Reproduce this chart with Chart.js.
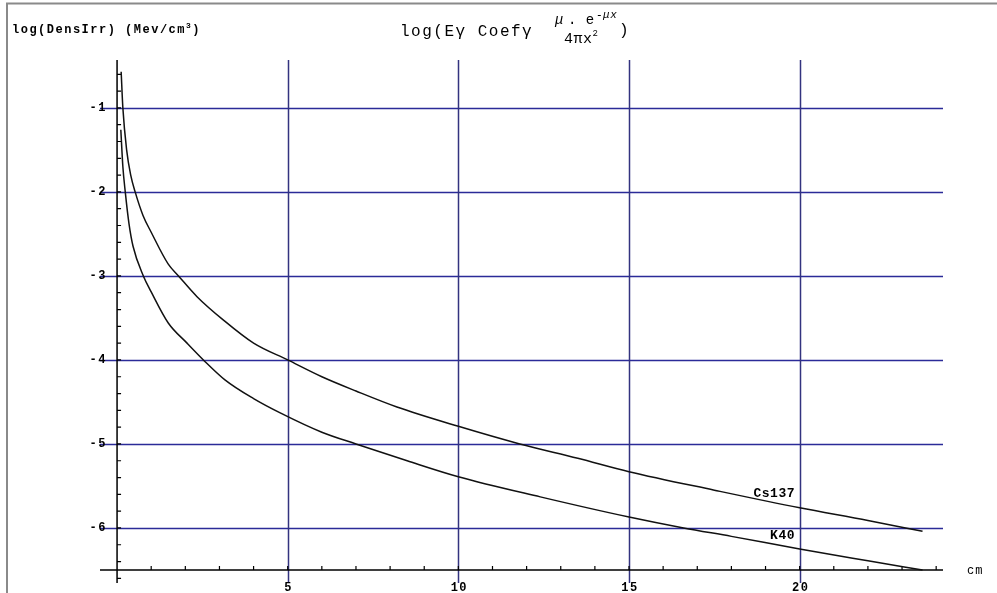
<!DOCTYPE html>
<html>
<head>
<meta charset="utf-8">
<script src="https://cdn.jsdelivr.net/npm/chart.js@4.4.1/dist/chart.umd.min.js"></script>
<style>
  html, body { margin: 0; padding: 0; background: #fff; }
  #wrap { width: 997px; height: 593px; }
</style>
</head>
<body>
<div id="wrap"><canvas id="c" width="997" height="593"></canvas></div>
<script>
// distance in cm, log of irradiation density
const cs137X = [0.12, 0.17, 0.28, 0.4, 0.53, 0.76, 1.0, 1.5, 1.8, 2.35, 3.1, 4.0, 5.0, 6.0, 7.0, 8.2, 10, 11.8, 13.5, 15, 17.5, 20, 22, 23.6];
const cs137Y = [-0.57, -1.0, -1.5, -1.8, -2.0, -2.28, -2.48, -2.86, -3.0, -3.25, -3.52, -3.8, -4.0, -4.2, -4.37, -4.56, -4.79, -5.0, -5.17, -5.33, -5.55, -5.76, -5.91, -6.04];

const k40X = [0.11, 0.17, 0.24, 0.35, 0.47, 0.77, 1.0, 1.5, 2.05, 2.53, 3.17, 4.0, 4.78, 6.0, 7.0, 8.5, 10, 12.4, 15, 16.6, 18, 20, 22, 23.6];
const k40Y = [-1.26, -1.7, -2.0, -2.38, -2.65, -3.0, -3.19, -3.56, -3.8, -4.0, -4.24, -4.46, -4.63, -4.86, -5.0, -5.2, -5.39, -5.63, -5.87, -6.0, -6.1, -6.25, -6.39, -6.5];

const xTickLabels = [5, 10, 15, 20];
const yTickLabels = [-1, -2, -3, -4, -5, -6];

const toPoints = (xs, ys) => xs.map((x, i) => ({ x, y: ys[i] }));

const MONO = '"Liberation Mono", "DejaVu Sans Mono", monospace';
const BLUE = '#2b2b98';

const plotDecor = {
  id: 'plotDecor',
  beforeDatasetsDraw(chart) {
    const { ctx, scales: { x, y } } = chart;
    const top = y.getPixelForValue(y.max);
    const bottom = y.getPixelForValue(y.min);
    const left = x.getPixelForValue(x.min);
    const right = x.getPixelForValue(x.max);
    const x0 = x.getPixelForValue(0);
    const yAxis = y.getPixelForValue(-6.5);

    ctx.save();
    // frame of the original window
    ctx.strokeStyle = '#8a8a8a';
    ctx.lineWidth = 2;
    ctx.beginPath();
    ctx.moveTo(7, 593); ctx.lineTo(7, 3.5); ctx.lineTo(997, 3.5);
    ctx.stroke();

    // grid
    ctx.strokeStyle = BLUE;
    ctx.lineWidth = 1.5;
    yTickLabels.forEach(v => {
      const py = Math.round(y.getPixelForValue(v)) + 0.5;
      ctx.beginPath(); ctx.moveTo(left, py); ctx.lineTo(right, py); ctx.stroke();
    });
    ctx.strokeStyle = '#33337f';
    xTickLabels.forEach(v => {
      const px = Math.round(x.getPixelForValue(v)) + 0.5;
      ctx.beginPath(); ctx.moveTo(px, top); ctx.lineTo(px, bottom); ctx.stroke();
    });

    // axes
    ctx.strokeStyle = '#000';
    ctx.lineWidth = 1.5;
    ctx.beginPath();
    ctx.moveTo(left, yAxis); ctx.lineTo(right, yAxis);
    ctx.moveTo(x0, top); ctx.lineTo(x0, bottom);
    ctx.stroke();

    // minor ticks
    ctx.lineWidth = 1.2;
    ctx.beginPath();
    for (let v = 1; v <= 24; v++) {
      const px = x.getPixelForValue(v);
      ctx.moveTo(px, yAxis); ctx.lineTo(px, yAxis - 4);
    }
    for (let k = -33; k <= -3; k++) {
      const py = y.getPixelForValue(k / 5);
      ctx.moveTo(x0, py); ctx.lineTo(x0 + 4, py);
    }
    ctx.stroke();

    // tick labels
    ctx.fillStyle = '#000';
    ctx.font = 'bold 12px ' + MONO;
    ctx.letterSpacing = '1.5px';
    ctx.textBaseline = 'middle';
    ctx.textAlign = 'right';
    yTickLabels.forEach(v => {
      ctx.fillText(String(v), 107, y.getPixelForValue(v));
    });
    ctx.textAlign = 'center';
    ctx.textBaseline = 'top';
    xTickLabels.forEach(v => {
      ctx.fillText(String(v), x.getPixelForValue(v) + 1, 582);
    });
    ctx.textAlign = 'left';
    ctx.textBaseline = 'middle';
    ctx.letterSpacing = '1px';
    ctx.font = '12px ' + MONO;
    ctx.fillText('cm', 967, 571);

    // axis title
    ctx.font = 'bold 12px ' + MONO;
    ctx.letterSpacing = '1.5px';
    ctx.fillText('log(DensIrr) (Mev/cm', 12, 30);
    let w = ctx.measureText('log(DensIrr) (Mev/cm').width;
    ctx.font = 'bold 8px ' + MONO;
    ctx.fillText('3', 12 + w, 26);
    w += ctx.measureText('3').width;
    ctx.font = 'bold 12px ' + MONO;
    ctx.fillText(')', 12 + w, 30);

    // plot title with the fraction
    ctx.letterSpacing = '1.5px';
    ctx.font = '16px ' + MONO;
    ctx.fillText('log(E\u03b3 Coef\u03b3', 400, 32);
    ctx.letterSpacing = '0.5px';
    ctx.font = 'italic 14px ' + MONO;
    ctx.fillText('\u03bc', 555, 20);
    ctx.font = '14px ' + MONO;
    ctx.fillText('. e', 568, 20);
    ctx.font = 'italic 11px ' + MONO;
    ctx.fillText('-\u03bcx', 596, 15);
    ctx.font = '15px ' + MONO;
    ctx.fillText('4\u03c0x', 564, 39);
    const dw = ctx.measureText('4\u03c0x').width;
    ctx.font = '9px ' + MONO;
    ctx.fillText('2', 564 + dw, 34);
    ctx.font = '16px ' + MONO;
    ctx.fillText(')', 619, 31);
    ctx.restore();
  },
  afterDatasetsDraw(chart) {
    const { ctx } = chart;
    ctx.save();
    ctx.fillStyle = '#000';
    ctx.font = 'bold 13px ' + MONO;
    ctx.letterSpacing = '0.5px';
    ctx.textAlign = 'right';
    ctx.textBaseline = 'middle';
    ctx.fillText('Cs137', 795, 494);
    ctx.fillText('K40', 795, 536);
    ctx.restore();
  }
};

new Chart(document.getElementById('c').getContext('2d'), {
  type: 'scatter',
  data: {
    datasets: [
      { label: 'Cs137', data: toPoints(cs137X, cs137Y) },
      { label: 'K40', data: toPoints(k40X, k40Y) }
    ].map(d => ({
      ...d,
      showLine: true,
      borderColor: '#111',
      borderWidth: 1.5,
      pointRadius: 0,
      cubicInterpolationMode: 'monotone'
    }))
  },
  options: {
    responsive: false,
    animation: false,
    layout: { padding: { left: 100, right: 54, top: 60, bottom: 10 } },
    scales: {
      x: { type: 'linear', min: -0.5, max: 24.2, display: false },
      y: { type: 'linear', min: -6.655, max: -0.43, display: false }
    },
    plugins: { legend: { display: false }, tooltip: { enabled: false } }
  },
  plugins: [plotDecor]
});
</script>
</body>
</html>
